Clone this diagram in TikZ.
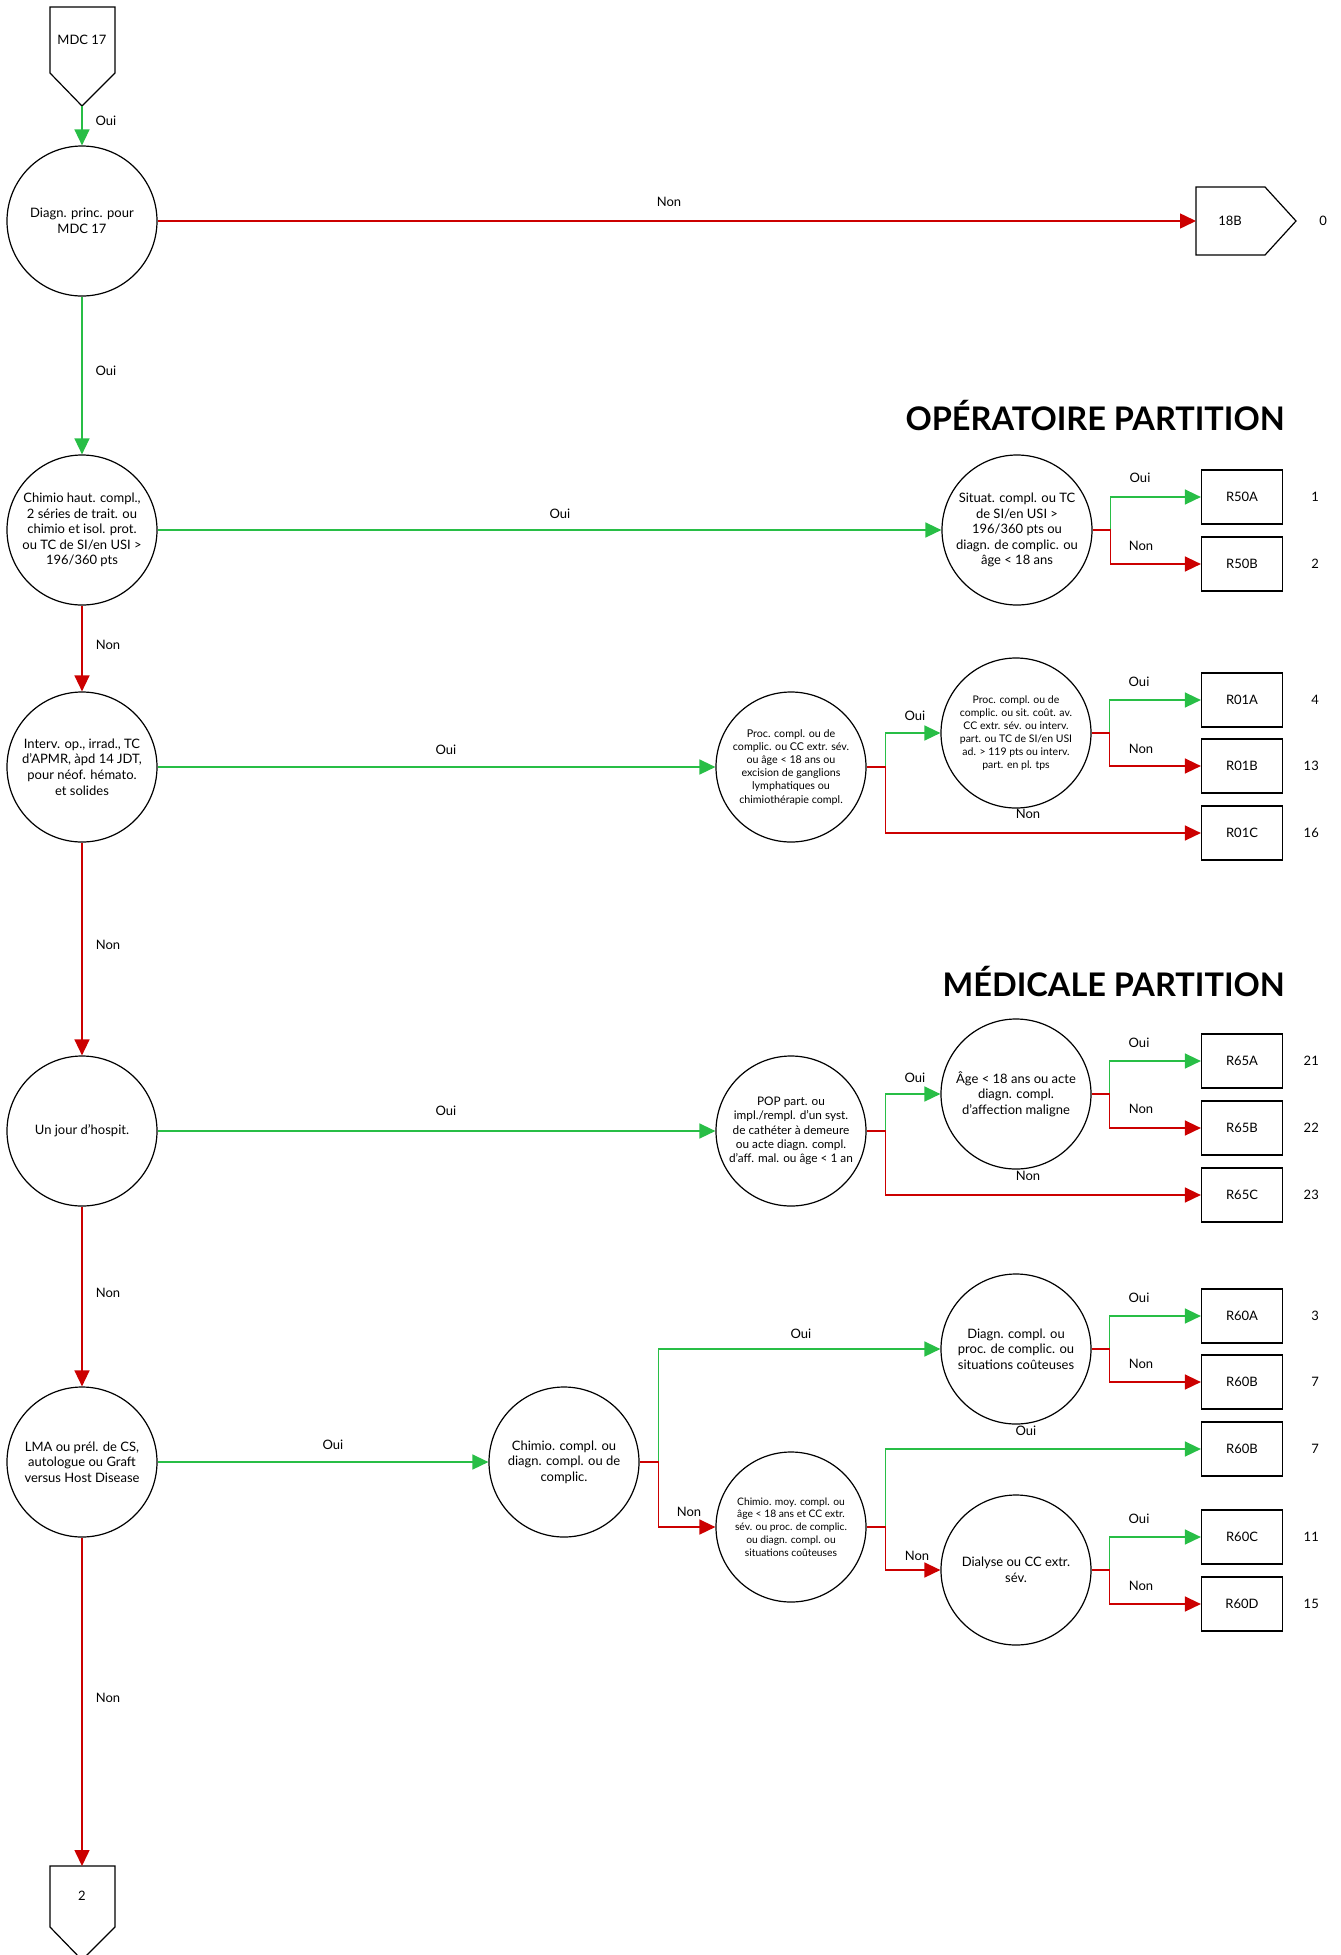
\documentclass[tikz,border=0pt]{standalone}
\usepackage{fontspec}
\setmainfont{Lato}
\usetikzlibrary{arrows.meta}
\definecolor{ogreen}{RGB}{40,190,70}
\definecolor{ored}{RGB}{204,0,0}
\begin{document}
\begin{tikzpicture}[x=1pt,y=-1pt,
  every node/.style={font=\fontsize{13}{15.6}\selectfont},
  dec/.style={circle,draw,line width=1.2pt,minimum size=150pt,inner sep=0pt,align=center},
  smalltxt/.style={font=\fontsize{10.5}{13}\selectfont},
  box/.style={draw,line width=1.2pt,minimum width=81pt,minimum height=54pt,inner sep=0pt},
  yes/.style={ogreen,line width=1.5pt,-{Triangle[length=16pt,width=15pt]}},
  no/.style={ored,line width=1.5pt,-{Triangle[length=16pt,width=15pt]}},
  lbl/.style={inner sep=1pt},
  num/.style={anchor=east,inner sep=0pt},
  title/.style={anchor=base east,font=\bfseries\fontsize{32.5}{38}\selectfont,inner sep=0pt},
  shp/.style={draw,line width=1.2pt}]
\useasboundingbox (0,0) rectangle (1341,1955);

% off-page connectors
\draw[shp] (50,7) -- (115,7) -- (115,73) -- (82,106) -- (50,73) -- cycle;
\node (mdc) at (82,40) {MDC 17};
\coordinate (mdctip) at (82,106);

\draw[shp] (1196,187) -- (1265,187) -- (1296,221) -- (1265,255) -- (1196,255) -- cycle;
\node (n18b) at (1230,221) {18B};
\coordinate (b18) at (1196,221);
\node[num] (z0) at (1327,221) {0};

\draw[shp] (50,1866) -- (115,1866) -- (115,1927) -- (82,1960) -- (50,1927) -- cycle;
\node (n2) at (82,1896) {2};
\coordinate (p2top) at (82,1866);

% titles
\node[title] (t1) at (1285,430) {OPÉRATOIRE PARTITION};
\node[title] (t2) at (1285,996) {MÉDICALE PARTITION};

% main column
\node[dec] (c1) at (82,221) {Diagn. princ. pour\\MDC 17};
\node[dec] (c2) at (82,530) {Chimio haut. compl.,\\2 séries de trait. ou\\chimio et isol. prot.\\ou TC de SI/en USI >\\196/360 pts};
\node[dec] (c3) at (82,767) {Interv. op., irrad., TC\\d’APMR, àpd 14 JDT,\\pour néof. hémato.\\et solides};
\node[dec] (c4) at (82,1131) {Un jour d’hospit.};
\node[dec] (c5) at (82,1462) {LMA ou prél. de CS,\\autologue ou Graft\\versus Host Disease};

% branch decisions
\node[dec] (sit) at (1017,530) {Situat. compl. ou TC\\de SI/en USI >\\196/360 pts ou\\diagn. de complic. ou\\âge < 18 ans};
\node[dec,font=\fontsize{10.7}{13.2}\selectfont] (proc) at (791,767) {Proc. compl. ou de\\complic. ou CC extr. sév.\\ou âge < 18 ans ou\\excision de ganglions\\lymphatiques ou\\chimiothérapie compl.};
\node[dec,smalltxt] (r01q) at (1016,733) {Proc. compl. ou de\\complic. ou sit. coût. av.\\CC extr. sév. ou interv.\\part. ou TC de SI/en USI\\ad. > 119 pts ou interv.\\part. en pl. tps};
\node[dec,font=\fontsize{11.8}{14.3}\selectfont] (pop) at (791,1131) {POP part. ou\\impl./rempl. d’un syst.\\de cathéter à demeure\\ou acte diagn. compl.\\d’aff. mal. ou âge < 1 an};
\node[dec] (age) at (1016,1094) {Âge < 18 ans ou acte\\diagn. compl.\\d’affection maligne};
\node[dec] (chc) at (564,1462) {Chimio. compl. ou\\diagn. compl. ou de\\complic.};
\node[dec] (dgc) at (1016,1349) {Diagn. compl. ou\\proc. de complic. ou\\situations coûteuses};
\node[dec,font=\fontsize{10.3}{12.8}\selectfont] (chm) at (791,1527) {Chimio. moy. compl. ou\\âge < 18 ans et CC extr.\\sév. ou proc. de complic.\\ou diagn. compl. ou\\situations coûteuses};
\node[dec] (dia) at (1016,1570) {Dialyse ou CC extr.\\sév.};

% result boxes
\node[box] (r50a) at (1242,497) {R50A};
\node[box] (r50b) at (1242,564) {R50B};
\node[box] (r01a) at (1242,700) {R01A};
\node[box] (r01b) at (1242,766) {R01B};
\node[box] (r01c) at (1242,833) {R01C};
\node[box] (r65a) at (1242,1061) {R65A};
\node[box] (r65b) at (1242,1128) {R65B};
\node[box] (r65c) at (1242,1195) {R65C};
\node[box] (r60a) at (1242,1316) {R60A};
\node[box] (r60b) at (1242,1382) {R60B};
\node[box] (r60bb) at (1242,1449) {R60B};
\node[box] (r60c) at (1242,1537) {R60C};
\node[box] (r60d) at (1242,1604) {R60D};

% numbers
\node[num] (n1) at (1319,497) {1};
\node[num] (n2b) at (1319,564) {2};
\node[num] (n4) at (1319,700) {4};
\node[num] (n13) at (1319,766) {13};
\node[num] (n16) at (1319,833) {16};
\node[num] (n21) at (1319,1061) {21};
\node[num] (n22) at (1319,1128) {22};
\node[num] (n23) at (1319,1195) {23};
\node[num] (n3) at (1319,1316) {3};
\node[num] (n7) at (1319,1382) {7};
\node[num] (n7b) at (1319,1449) {7};
\node[num] (n11) at (1319,1537) {11};
\node[num] (n15) at (1319,1604) {15};

% main column connectors
\draw[yes] (mdctip) -- (c1);
\draw[no] (c1) -- (b18);
\draw[yes] (c1) -- (c2);
\draw[no] (c2) -- (c3);
\draw[no] (c3) -- (c4);
\draw[no] (c4) -- (c5);
\draw[no] (c5) -- (p2top);

% row 1
\draw[yes] (c2) -- (sit);
\draw[yes] (sit.east) -- ++(18,0) |- (r50a.west);
\draw[no] (sit.east) -- ++(18,0) |- (r50b.west);

% row 2
\draw[yes] (c3) -- (proc);
\draw[yes] (proc.east) -- ++(19,0) |- (r01q.west);
\draw[no] (proc.east) -- ++(19,0) |- (r01c.west);
\draw[yes] (r01q.east) -- ++(18,0) |- (r01a.west);
\draw[no] (r01q.east) -- ++(18,0) |- (r01b.west);

% row 3
\draw[yes] (c4) -- (pop);
\draw[yes] (pop.east) -- ++(19,0) |- (age.west);
\draw[no] (pop.east) -- ++(19,0) |- (r65c.west);
\draw[yes] (age.east) -- ++(18,0) |- (r65a.west);
\draw[no] (age.east) -- ++(18,0) |- (r65b.west);

% row 4
\draw[yes] (c5) -- (chc);
\draw[yes] (chc.east) -- ++(19,0) |- (dgc.west);
\draw[no] (chc.east) -- ++(19,0) |- (chm.west);
\draw[yes] (dgc.east) -- ++(18,0) |- (r60a.west);
\draw[no] (dgc.east) -- ++(18,0) |- (r60b.west);
\draw[yes] (chm.east) -- ++(19,0) |- (r60bb.west);
\draw[no] (chm.east) -- ++(19,0) |- (dia.west);
\draw[yes] (dia.east) -- ++(18,0) |- (r60c.west);
\draw[no] (dia.east) -- ++(18,0) |- (r60d.west);

% labels
\node[lbl] (l1) at (106,121) {Oui};
\node[lbl] (l2) at (669,202) {Non};
\node[lbl] (l3) at (106,371) {Oui};
\node[lbl] (l4) at (108,645) {Non};
\node[lbl] (l5) at (108,945) {Non};
\node[lbl] (l6) at (108,1293) {Non};
\node[lbl] (l7) at (108,1698) {Non};
\node[lbl] (l8) at (560,514) {Oui};
\node[lbl] (l9) at (446,750) {Oui};
\node[lbl] (l10) at (446,1111) {Oui};
\node[lbl] (l11) at (333,1445) {Oui};
\node[lbl] (l12) at (1140,478) {Oui};
\node[lbl] (l13) at (1141,546) {Non};
\node[lbl] (l14) at (915,716) {Oui};
\node[lbl] (l15) at (1028,814) {Non};
\node[lbl] (l16) at (1139,682) {Oui};
\node[lbl] (l17) at (1141,749) {Non};
\node[lbl] (l18) at (915,1078) {Oui};
\node[lbl] (l19) at (1028,1176) {Non};
\node[lbl] (l20) at (1139,1043) {Oui};
\node[lbl] (l21) at (1141,1109) {Non};
\node[lbl] (l22) at (801,1334) {Oui};
\node[lbl] (l23) at (689,1512) {Non};
\node[lbl] (l24) at (1139,1298) {Oui};
\node[lbl] (l25) at (1141,1364) {Non};
\node[lbl] (l26) at (1026,1431) {Oui};
\node[lbl] (l27) at (917,1556) {Non};
\node[lbl] (l28) at (1139,1519) {Oui};
\node[lbl] (l29) at (1141,1586) {Non};
\end{tikzpicture}
\end{document}
